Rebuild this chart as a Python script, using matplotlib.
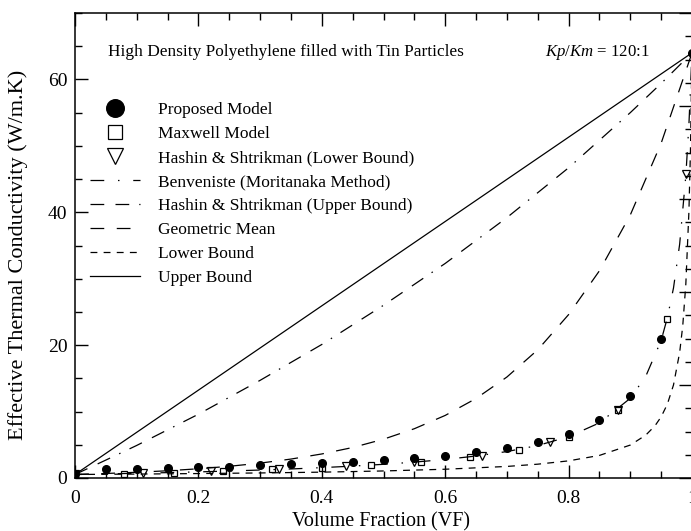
import matplotlib
matplotlib.use("Agg")
import matplotlib.pyplot as plt
from matplotlib.ticker import MultipleLocator, FixedLocator
from matplotlib.legend_handler import HandlerLine2D

plt.rcParams['font.family'] = ['Liberation Serif', 'DejaVu Serif']
plt.rcParams['mathtext.fontset'] = 'custom'
plt.rcParams['mathtext.rm'] = 'Liberation Serif'
plt.rcParams['mathtext.it'] = 'Liberation Serif:italic'

# ---- data: effective thermal conductivity of HDPE / tin composites ----
# Upper bound (parallel model)
vf_upper = [0.0, 1.0]
k_upper = [0.53, 64.0]

# Hashin & Shtrikman upper bound
vf_hs_upper = [0.0, 0.05, 0.1, 0.2, 0.3, 0.4, 0.5, 0.6, 0.7, 0.8, 0.9, 0.95, 1.0]
k_hs_upper = [0.53, 2.7, 4.9, 9.6, 14.7, 20.1, 26.0, 32.3, 39.2, 46.7, 55.0, 59.4, 64.0]

# Geometric mean
vf_geo = [0.0, 0.05, 0.1, 0.15, 0.2, 0.25, 0.3, 0.35, 0.4, 0.45, 0.5,
          0.55, 0.6, 0.65, 0.7, 0.75, 0.8, 0.85, 0.9, 0.95, 1.0]
k_geo = [0.53, 0.68, 0.86, 1.09, 1.39, 1.76, 2.24, 2.85, 3.62, 4.59, 5.84,
         7.42, 9.42, 11.97, 15.2, 19.3, 24.6, 31.2, 39.6, 50.4, 64.0]

# Lower bound (series model)
vf_lower = [0.0, 0.1, 0.2, 0.3, 0.4, 0.5, 0.6, 0.7, 0.75, 0.8, 0.85, 0.9,
            0.925, 0.94, 0.95, 0.96, 0.97, 0.98, 0.985, 0.99, 0.995, 0.9975, 1.0]
k_lower = [0.53, 0.59, 0.67, 0.76, 0.88, 1.06, 1.32, 1.74, 2.08, 2.58, 3.40, 4.96,
           6.45, 7.86, 9.21, 11.1, 14.0, 18.9, 22.9, 29.2, 40.1, 49.3, 64.0]

# Benveniste (Mori-Tanaka method)
vf_benv = [0.0, 0.05, 0.1, 0.15, 0.2, 0.25, 0.3, 0.35, 0.4, 0.45, 0.5, 0.55,
           0.6, 0.65, 0.7, 0.75, 0.8, 0.85, 0.9, 0.925, 0.95, 0.96, 0.97,
           0.98, 0.99, 0.995, 1.0]
k_benv = [0.53, 0.62, 0.71, 0.81, 0.92, 1.05, 1.20, 1.36, 1.56, 1.79, 2.06, 2.39,
          2.79, 3.31, 3.98, 4.89, 6.22, 8.30, 12.0, 15.3, 20.7, 24.1, 28.6,
          35.2, 45.5, 53.2, 64.0]

# Proposed model
vf_prop = [0.0, 0.05, 0.1, 0.15, 0.2, 0.25, 0.3, 0.35, 0.4, 0.45, 0.5,
           0.55, 0.6, 0.65, 0.7, 0.75, 0.8, 0.85, 0.9, 0.95, 1.0]
k_prop = [0.53, 1.3, 1.4, 1.5, 1.6, 1.7, 1.9, 2.1, 2.2, 2.45, 2.7,
          2.96, 3.36, 3.86, 4.56, 5.37, 6.6, 8.7, 12.4, 21.0, 64.0]

# Maxwell model
vf_maxwell = [0.0, 0.08, 0.16, 0.24, 0.32, 0.40, 0.48, 0.56, 0.64, 0.72, 0.80, 0.88, 0.96]
k_maxwell = [0.53, 0.65, 0.8, 1.0, 1.3, 1.55, 1.9, 2.45, 3.1, 4.25, 6.15, 10.2, 24.0]

# Hashin & Shtrikman lower bound
vf_hs_lower = [0.0, 0.11, 0.22, 0.33, 0.44, 0.55, 0.66, 0.77, 0.88, 0.99]
k_hs_lower = [0.53, 0.7, 1.0, 1.3, 1.8, 2.45, 3.36, 5.37, 10.2, 45.8]

x_tick_labels = ["0", "0.2", "0.4", "0.6", "0.8", "1"]
y_tick_labels = ["0", "20", "40", "60"]


class OffsetMarkerHandler(HandlerLine2D):
    """Legend handler placing a single marker towards the right of the handle box."""
    def get_xdata(self, legend, xdescent, ydescent, width, height, fontsize):
        xdata = [-xdescent, -xdescent + width]
        xdata_marker = [-xdescent + 0.74 * width]
        return xdata, xdata_marker


# ---- figure ----
fig = plt.figure(figsize=(6.91, 5.31), dpi=100)
ax = fig.add_axes([75 / 691, 53 / 531, 617 / 691, 465 / 531])

lw = 0.9
ax.plot(vf_upper, k_upper, color='black', lw=lw, linestyle='-', label='Upper Bound')
ax.plot(vf_hs_upper, k_hs_upper, color='black', lw=lw,
        linestyle=(0, (11, 9, 11, 8, 1.2, 8)),
        label='Hashin & Shtrikman (Upper Bound)')
ax.plot(vf_geo, k_geo, color='black', lw=lw, linestyle=(0, (11, 10)),
        label='Geometric Mean')
ax.plot(vf_lower, k_lower, color='black', lw=lw, linestyle=(0, (5.5, 5)),
        label='Lower Bound')
ax.plot(vf_benv, k_benv, color='black', lw=lw, linestyle=(0, (11, 11, 1.2, 11)),
        label='Benveniste (Moritanaka Method)')

p_prop, = ax.plot(vf_prop, k_prop, linestyle='none', marker='o', markersize=5.5,
                  color='black', label='Proposed Model', zorder=5)
p_max, = ax.plot(vf_maxwell, k_maxwell, linestyle='none', marker='s', markersize=4.6,
                 markerfacecolor='none', markeredgecolor='black', markeredgewidth=0.9,
                 label='Maxwell Model', zorder=5)
p_hsl, = ax.plot(vf_hs_lower, k_hs_lower, linestyle='none', marker='v', markersize=5.2,
                 markerfacecolor='none', markeredgecolor='black', markeredgewidth=0.9,
                 label='Hashin & Shtrikman (Lower Bound)', zorder=5)

ax.set_xlim(0, 1)
ax.set_ylim(0, 70)

ax.xaxis.set_major_locator(FixedLocator([0, 0.2, 0.4, 0.6, 0.8, 1.0]))
ax.set_xticklabels(x_tick_labels)
ax.xaxis.set_minor_locator(MultipleLocator(0.05))
ax.yaxis.set_major_locator(FixedLocator([0, 20, 40, 60]))
ax.set_yticklabels(y_tick_labels)
ax.yaxis.set_minor_locator(MultipleLocator(5))

ax.tick_params(which='both', direction='in', top=True, right=False,
               labelsize=14, width=1.0, colors='black')
ax.tick_params(axis='x', which='both', pad=8.5)
ax.tick_params(axis='y', which='both', pad=5.5)
ax.tick_params(which='major', length=9.5)
ax.tick_params(which='minor', length=5)
for side in ('left', 'bottom', 'top'):
    ax.spines[side].set_linewidth(1.1)
ax.spines['right'].set_visible(False)

# secondary scale on the right edge
ax2 = ax.twinx()
ax2.set_ylim(0, 70)
ax2.yaxis.set_major_locator(MultipleLocator(14))
ax2.yaxis.set_minor_locator(MultipleLocator(3.5))
ax2.tick_params(which='both', direction='in', labelright=False, width=1.0)
ax2.tick_params(which='major', length=9.5)
ax2.tick_params(which='minor', length=5)
for s in ax2.spines.values():
    s.set_visible(False)

ax.set_xlabel('Volume Fraction (VF)', fontsize=14.5)
ax.xaxis.set_label_coords(0.496, -0.074)
ax.set_ylabel('Effective Thermal Conductivity (W/m.K)', fontsize=16)
ax.yaxis.set_label_coords(-0.076, 0.48)

ax.text(0.0535, 0.916, 'High Density Polyethylene filled with Tin Particles',
        transform=ax.transAxes, fontsize=12.4, va='center', ha='left')
ax.text(0.762, 0.916, r'$\mathit{Kp/Km}$ = 120:1', transform=ax.transAxes,
        fontsize=12.1, va='center', ha='left')

handles, labels = ax.get_legend_handles_labels()
order = ['Proposed Model', 'Maxwell Model', 'Hashin & Shtrikman (Lower Bound)',
         'Benveniste (Moritanaka Method)', 'Hashin & Shtrikman (Upper Bound)',
         'Geometric Mean', 'Lower Bound', 'Upper Bound']
lookup = dict(zip(labels, handles))
marker_handler = OffsetMarkerHandler()
ax.legend([lookup[n] for n in order], order, loc='upper left',
          bbox_to_anchor=(0.024, 0.8085), frameon=False, fontsize=12.5,
          handlelength=2.9, handletextpad=1.0, labelspacing=0.45,
          borderpad=0, borderaxespad=0, markerscale=2.3, numpoints=1,
          handler_map={p_prop: marker_handler, p_max: marker_handler,
                       p_hsl: marker_handler})

fig.savefig('out.png', dpi=100)
